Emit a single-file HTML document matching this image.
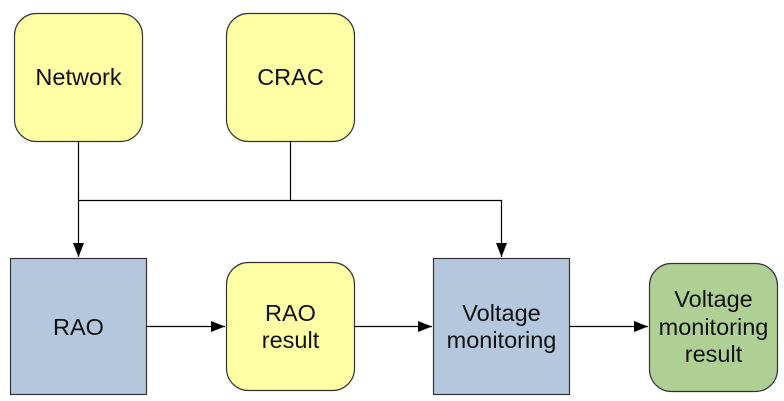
<!DOCTYPE html>
<html><head><meta charset="utf-8"><style>
html,body{margin:0;padding:0;background:#fff;}
svg{display:block}
text{font-family:"Liberation Sans",Arial,sans-serif;font-size:23.5px;fill:#111;text-anchor:middle}
</style></head><body>
<svg width="784" height="401" viewBox="0 0 784 401" xmlns="http://www.w3.org/2000/svg">
<defs>
<marker id="a" markerWidth="14" markerHeight="11" refX="14" refY="5.5" orient="auto" markerUnits="userSpaceOnUse">
<path d="M0,0 L14,5.5 L0,11 z" fill="#000"/></marker>
</defs>
<g stroke="#333" stroke-width="1.2">
<rect x="14.5" y="13.5" width="128" height="128" rx="22" fill="#ffffa6"/>
<rect x="226.5" y="13.5" width="128" height="128" rx="22" fill="#ffffa6"/>
<rect x="10.5" y="258.5" width="136" height="136" fill="#b4c7dc"/>
<rect x="226.5" y="262.5" width="128" height="128" rx="22" fill="#ffffa6"/>
<rect x="433.5" y="258.5" width="136" height="136" fill="#b4c7dc"/>
<rect x="649.5" y="263.5" width="128" height="128" rx="22" fill="#afd095"/>
</g>
<g stroke="#000" stroke-width="1.2" fill="none">
<path d="M78.5 141 V257" marker-end="url(#a)"/>
<path d="M290.5 141 V200.5"/>
<path d="M78.5 200.5 H501.5 V257" marker-end="url(#a)"/>
<path d="M147 326.5 H225" marker-end="url(#a)"/>
<path d="M355 326.5 H432" marker-end="url(#a)"/>
<path d="M570 326.5 H648" marker-end="url(#a)"/>
</g>
<text x="78.5" y="85">Network</text>
<text x="290.5" y="85">CRAC</text>
<text x="78.5" y="335">RAO</text>
<text x="290.5" y="321">RAO</text>
<text x="290.5" y="348">result</text>
<text x="501.5" y="321">Voltage</text>
<text x="501.5" y="348">monitoring</text>
<text x="713.5" y="307">Voltage</text>
<text x="713.5" y="335">monitoring</text>
<text x="713.5" y="362">result</text>
</svg>
</body></html>
